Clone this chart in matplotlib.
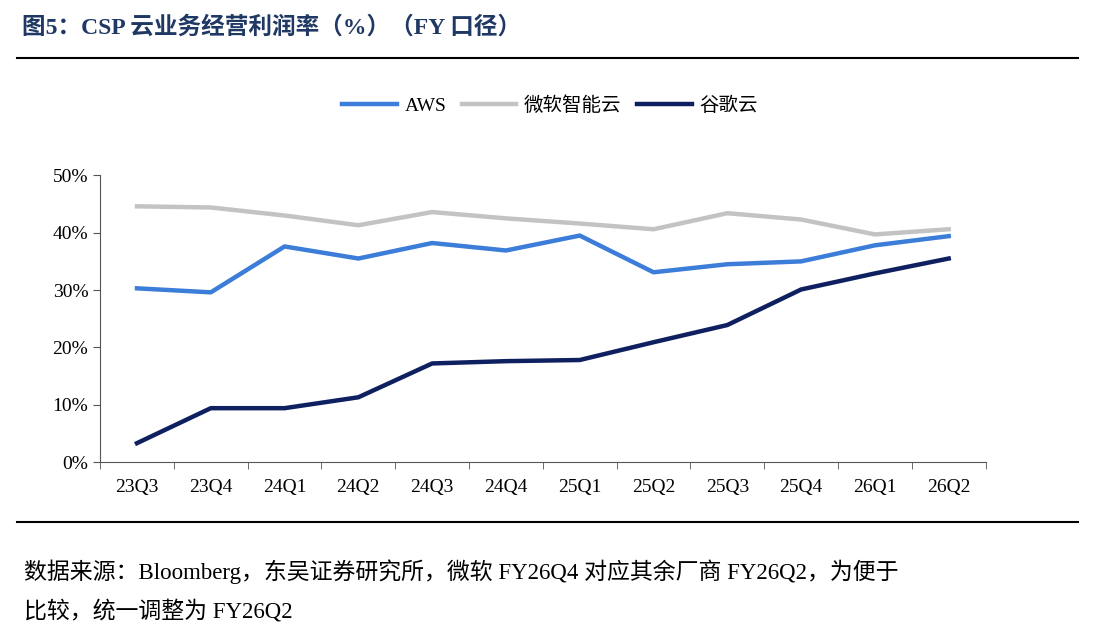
import matplotlib
matplotlib.use('Agg')
import matplotlib.pyplot as plt
import numpy as np

quarters = ['23Q3', '23Q4', '24Q1', '24Q2', '24Q3', '24Q4', '25Q1', '25Q2', '25Q3', '25Q4', '26Q1', '26Q2']
aws = [30.3, 29.6, 37.6, 35.5, 38.2, 36.9, 39.5, 33.1, 34.5, 35.0, 37.8, 39.4]
azure = [44.6, 44.4, 43.0, 41.3, 43.6, 42.5, 41.6, 40.6, 43.4, 42.3, 39.7, 40.6]
gcp = [3.3, 9.4, 9.4, 11.3, 17.2, 17.6, 17.8, 20.9, 23.9, 30.1, 32.9, 35.5]
series_names = ['AWS', '微软智能云', '谷歌云']

plt.rcParams['font.family'] = ['Liberation Serif', 'Noto Sans CJK SC']

fig = plt.figure(figsize=(11, 6.4), dpi=100)
ax = fig.add_axes([0.091, 0.278, 0.805, 0.448])

x = np.arange(len(quarters))
ax.plot(x, aws, color='#3b7dd8', lw=3.2, label=series_names[0])
ax.plot(x, azure, color='#c3c3c3', lw=3.2, label=series_names[1])
ax.plot(x, gcp, color='#0f2060', lw=3.2, label=series_names[2])

ax.set_xlim(-0.5, len(quarters) - 0.5)
ax.set_ylim(0, 50)
ax.set_yticks(range(0, 51, 10))
ax.set_yticklabels([f'{v}%' for v in range(0, 51, 10)], fontsize=14)
ax.set_xticks(x)
ax.set_xticklabels(quarters, fontsize=14)
ax.set_xticks(np.arange(-0.5, len(quarters), 1), minor=True)
ax.tick_params(axis='x', which='major', length=0, pad=12)
ax.tick_params(axis='x', which='minor', length=5, direction='out', color='#555555')
ax.tick_params(axis='y', length=5, direction='out', color='#555555')
for s in ['top', 'right']:
    ax.spines[s].set_visible(False)
for s in ['left', 'bottom']:
    ax.spines[s].set_color('#555555')

fig.legend(loc='center', bbox_to_anchor=(0.5, 0.835), ncol=3, frameon=False,
           fontsize=14, handlelength=2.8, columnspacing=0.8, handletextpad=0.4)

fig.text(0.02, 0.948, '图5：CSP 云业务经营利润率（%）（FY 口径）', fontsize=17,
         fontweight='bold', color='#1f3864')
fig.add_artist(plt.Line2D([0.015, 0.98], [0.909, 0.909], color='black', lw=1.5))
fig.add_artist(plt.Line2D([0.015, 0.98], [0.184, 0.184], color='black', lw=1.5))
fig.text(0.022, 0.095, '数据来源：Bloomberg，东吴证券研究所，微软 FY26Q4 对应其余厂商 FY26Q2，为便于',
         fontsize=16.5)
fig.text(0.022, 0.035, '比较，统一调整为 FY26Q2', fontsize=16.5)

fig.savefig('out.png', dpi=100)
